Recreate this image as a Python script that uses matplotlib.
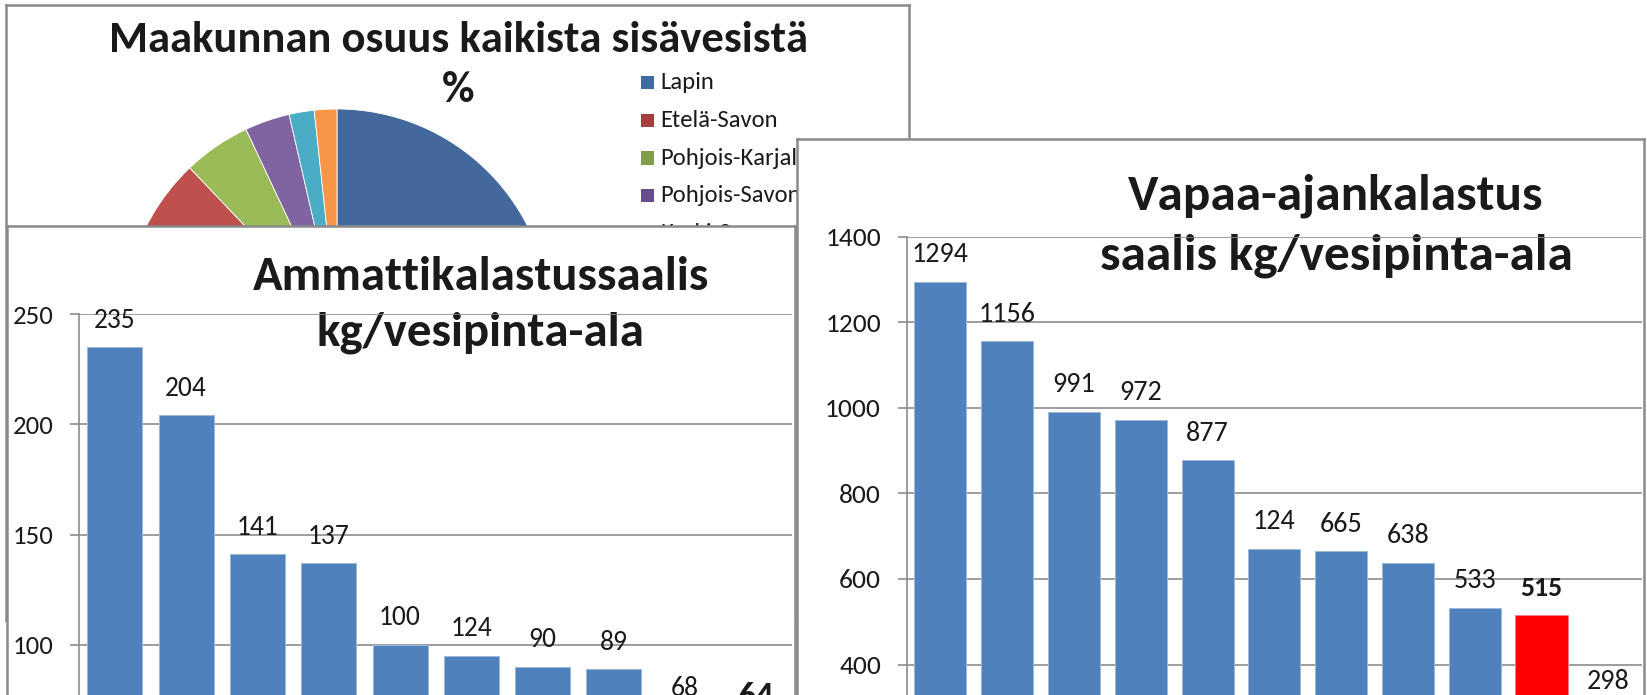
import matplotlib
matplotlib.use('Agg')
import matplotlib.pyplot as plt
from matplotlib import font_manager as fm
from matplotlib.patches import Rectangle

W, H = 1647, 695
names = {f.name for f in fm.fontManager.ttflist}
FONT = next(n for n in ['Carlito', 'Lato', 'Open Sans', 'DejaVu Sans'] if n in names)
plt.rcParams['font.family'] = [FONT, 'DejaVu Sans']

# ---------------- data ----------------
pie_title = 'Maakunnan osuus kaikista sisävesistä'
pie_labels = ['Lapin', 'Etelä-Savon', 'Pohjois-Karjalan', 'Pohjois-Savon', 'Keski-Suomen', 'Kainuun']
pie_values = [50.0, 37.9, 5.1, 3.4, 1.9, 1.7]
pie_colors = ['#43699C', '#C0504D', '#9BBB59', '#8064A2', '#4BACC6', '#F79646']
legend_colors = ['#3F6BA3', '#A5403D', '#7F9F4A', '#664E8C', '#3E93AC', '#D9803A']

amm_title = ['Ammattikalastussaalis', 'kg/vesipinta-ala']
amm_values = [235, 204, 141, 137, 100, 95, 90, 89, 68, 64]
amm_labels = ['235', '204', '141', '137', '100', '124', '90', '89', '68', '64']
amm_highlight = 9
amm_ticks = [0, 50, 100, 150, 200, 250]

vap_title = ['Vapaa-ajankalastus', 'saalis kg/vesipinta-ala']
vap_values = [1294, 1156, 991, 972, 877, 670, 665, 638, 533, 515, 298]
vap_labels = ['1294', '1156', '991', '972', '877', '124', '665', '638', '533', '515', '298']
vap_highlight = 9
vap_ticks = [0, 200, 400, 600, 800, 1000, 1200, 1400]

BLUE = '#4F81BD'
RED = '#FF0000'
GRID = '#8C8C8C'
BORDER = '#8A8A8A'
TXT = '#1A1A1A'

fig = plt.figure(figsize=(W / 100, H / 100), dpi=100)
fig.patch.set_facecolor('white')
renderer = fig.canvas.get_renderer()


def rect(x0, y0, x1, y1):
    return [x0 / W, 1 - y1 / H, (x1 - x0) / W, (y1 - y0) / H]


def fxy(x, y):
    return (x / W, 1 - y / H)


def size_for(s, target_px, weight='normal'):
    t = fig.text(0, 0, s, fontsize=20, fontweight=weight)
    w = t.get_window_extent(renderer).width
    t.remove()
    return 20 * target_px / w


def panel(x0, y0, x1, y1, z):
    ax = fig.add_axes(rect(x0, y0, x1, y1))
    ax.set_zorder(z)
    ax.set_xticks([])
    ax.set_yticks([])
    ax.set_facecolor('white')
    for s in ax.spines.values():
        s.set_color(BORDER)
        s.set_linewidth(1.8)
    return ax


def bar_chart(ax, values, labels, ticks, highlight, width, tick_fs, lab_fs, hl_fs):
    x = list(range(len(values)))
    colors = [RED if i == highlight else BLUE for i in x]
    edges = ['#FF8080' if i == highlight else '#9DB8DA' for i in x]
    ax.bar(x, values, width=width, color=colors, edgecolor=edges, linewidth=0.7, zorder=2)
    ax.set_xlim(-0.5, len(values) - 0.5)
    ax.set_ylim(ticks[0], ticks[-1])
    ax.set_yticks(ticks)
    ax.set_xticks([])
    ax.patch.set_alpha(0)
    ax.set_axisbelow(True)
    ax.grid(axis='y', color=GRID, linewidth=1.2)
    for k in ['top', 'right', 'bottom']:
        ax.spines[k].set_visible(False)
    ax.spines['left'].set_color(GRID)
    ax.spines['left'].set_linewidth(1.2)
    ax.tick_params(axis='y', direction='out', length=6.5, width=1.2, color=GRID,
                   pad=12.2, labelsize=tick_fs, labelcolor=TXT)
    for i, (v, lab) in enumerate(zip(values, labels)):
        hl = i == highlight
        ax.annotate(lab, (i, v), xytext=(0, 19.5), textcoords='offset points',
                    ha='center', va='center', color=TXT,
                    fontsize=hl_fs if hl else lab_fs,
                    fontweight='bold' if hl else 'normal')


# ---------------- pie panel ----------------
pie_bg = panel(6, 5, 909, 620, 0)
pie_ax = fig.add_axes(rect(337 - 213.7, 322.7 - 213.7, 337 + 213.7, 322.7 + 213.7))
pie_ax.set_zorder(0.5)
pie_ax.pie(pie_values, colors=pie_colors, startangle=90, counterclock=False, radius=1,
           wedgeprops=dict(linewidth=0.6, edgecolor='white'))
pie_ax.set_xlim(-1, 1)
pie_ax.set_ylim(-1, 1)
pie_ax.set_axis_off()

fs_pt = size_for(pie_title, 700, 'bold')
pie_bg.text(*fxy(459, 51.7), pie_title, transform=fig.transFigure, ha='center', va='baseline',
            fontsize=fs_pt, fontweight='bold', color=TXT)
pie_bg.text(*fxy(458.6, 101.7), '%', transform=fig.transFigure, ha='center', va='baseline',
            fontsize=fs_pt, fontweight='bold', color=TXT)

fs_leg = size_for('Etelä-Savon', 118)
for i, (lab, col) in enumerate(zip(pie_labels, legend_colors)):
    yc = 82.7 + i * 37.7
    pie_bg.add_patch(Rectangle(fxy(640.7, yc + 6.6), 13.3 / W, 13.3 / H, transform=fig.transFigure,
                               facecolor=col, edgecolor='none', clip_on=False))
    pie_bg.text(*fxy(660.7, yc), lab, transform=fig.transFigure, ha='left', va='center',
                fontsize=fs_leg, color=TXT, clip_on=False)

# ---------------- left bar panel ----------------
left_bg = panel(7, 226, 795, 900, 1)
axL = fig.add_axes(rect(79.2, 314, 792.2, 865.5))
axL.set_zorder(1.5)
bar_chart(axL, amm_values, amm_labels, amm_ticks, amm_highlight, 0.77,
          size_for('250', 40.7), size_for('235', 41.7), size_for('64', 36.7, 'bold'))
fs_lt = size_for(amm_title[0], 457.6, 'bold')
left_bg.text(*fxy(481, 290), amm_title[0], transform=fig.transFigure, ha='center', va='baseline',
             fontsize=fs_lt, fontweight='bold', color=TXT)
left_bg.text(*fxy(480, 345), amm_title[1], transform=fig.transFigure, ha='center', va='baseline',
             fontsize=fs_lt, fontweight='bold', color=TXT)

# ---------------- right bar panel ----------------
right_bg = panel(797, 139, 1644, 900, 2)
axR = fig.add_axes(rect(907, 236.7, 1641.7, 835.7))
axR.set_zorder(2.5)
bar_chart(axR, vap_values, vap_labels, vap_ticks, vap_highlight, 0.78,
          size_for('1400', 55.7), size_for('1294', 57), size_for('515', 42, 'bold'))
fs_rt = size_for(vap_title[1], 474, 'bold')
right_bg.text(*fxy(1336, 210), vap_title[0], transform=fig.transFigure, ha='center', va='baseline',
              fontsize=fs_rt, fontweight='bold', color=TXT)
right_bg.text(*fxy(1336, 270), vap_title[1], transform=fig.transFigure, ha='center', va='baseline',
              fontsize=fs_rt, fontweight='bold', color=TXT)

fig.savefig('out.png', dpi=100, facecolor='white')
